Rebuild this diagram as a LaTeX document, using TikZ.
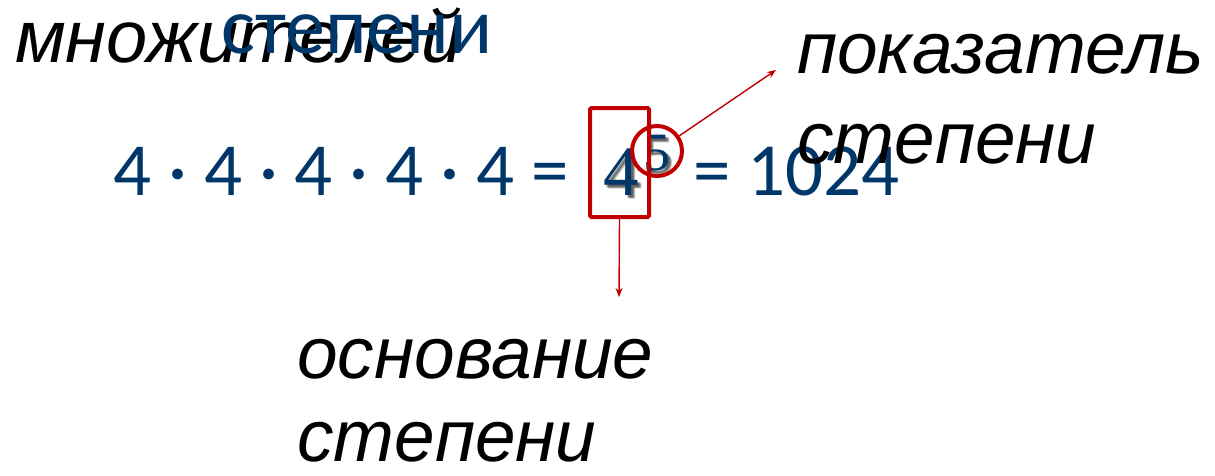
\documentclass[tikz,border=0pt]{standalone}
\usepackage{fontspec}
\newfontfamily\lsans{Liberation Sans}
\newfontfamily\carl{Carlito}
\newfontfamily\lserif{Liberation Serif}
\usetikzlibrary{arrows.meta}
\definecolor{eqblue}{RGB}{0,54,104}
\definecolor{mred}{RGB}{192,0,0}
\tikzset{
  lbl/.style={anchor=base west,inner sep=0pt,font=\lsans\itshape\fontsize{73}{73}\selectfont,text=black},
  eqtxt/.style={anchor=base west,inner sep=0pt,font=\carl\fontsize{75}{75}\selectfont,text=eqblue},
  sertxt/.style={anchor=base west,inner sep=0pt,text=eqblue},
  shad/.style={anchor=base west,inner sep=0pt,text=black,opacity=0.15},
  redline/.style={draw=mred,line width=1.4pt,-{Stealth[length=9pt,width=7pt]}},
}
\begin{document}
\begin{tikzpicture}[x=1pt,y=-1pt]
\useasboundingbox (0,0) rectangle (1215,475);
% top labels
\node[lbl,font=\lsans\itshape\fontsize{74}{74}\selectfont] (mnozh) at (15,62) {множителей};
\node[eqtxt,font=\carl\fontsize{80}{80}\selectfont] (stepblue) at (221,53) {степени};
% equation
\node[eqtxt] (eq) at (113,195) {4 · 4 · 4 · 4 · 4 =};
\foreach \dx/\dy in {2/2,3/3,4/4,3/2,2/3,4/3}{
  \node[shad,font=\lserif\fontsize{71}{71}\selectfont] at (603+\dx,195+\dy) {4};
  \node[shad,font=\lserif\fontsize{54}{54}\selectfont] at (643+\dx,170+\dy) {5};
}
\node[sertxt,font=\lserif\fontsize{71}{71}\selectfont] (base) at (603,195) {4};
\node[sertxt,font=\lserif\fontsize{54}{54}\selectfont] (expo) at (643,170) {5};
\node[eqtxt] (res) at (693,195) {= 1024};
% right labels
\node[lbl] (pok) at (797,73) {показатель};
\node[lbl] (pokst) at (797,163) {степени};
% bottom labels
\node[lbl] (osn) at (297,378) {основание};
\node[lbl] (osnst) at (297,461) {степени};
% red marks
\node[draw=mred,line width=4pt,rounded corners=1.5pt,minimum width=59pt,minimum height=109pt,inner sep=0pt] (box) at (619.5,162.5) {};
\node[draw=mred,line width=4pt,circle,minimum size=50pt,inner sep=0pt] (circ) at (657,151) {};
\coordinate (tipR) at (776,70);
\coordinate (tipD) at (619,297);
\draw[redline] (circ) -- (tipR);
\draw[redline] (box.south) -- (tipD);
\end{tikzpicture}
\end{document}
